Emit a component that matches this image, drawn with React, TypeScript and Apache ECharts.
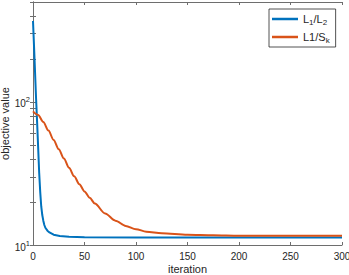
import React, { useEffect, useRef } from 'react';
import * as echarts from 'echarts';

const blueIter = [0, 1, 2, 3, 4, 5, 6, 7, 8, 9, 10, 11, 12, 14, 16, 20, 26, 35, 50, 100, 150, 200, 250, 300];
const blueVal = [368, 245, 160, 105, 72, 48, 32, 23.5, 18.6, 16.2, 14.8, 13.8, 13.2, 12.6, 12.25, 11.8, 11.55, 11.4, 11.33, 11.3, 11.3, 11.3, 11.3, 11.3];
const redIter = [0, 5, 10, 15, 20, 25, 30, 35, 40, 45, 50, 55, 60, 70, 80, 90, 100, 110, 125, 150, 175, 200, 250, 300];
const redVal = [85.9, 81.1, 72.4, 63.1, 54.3, 46.8, 40.3, 34.7, 30.2, 26.6, 23.7, 21.4, 19.5, 16.6, 14.8, 13.6, 12.9, 12.4, 12.1, 11.8, 11.7, 11.6, 11.6, 11.6];
const yTicks = [10, 20, 30, 40, 50, 60, 70, 80, 90, 100, 200, 300, 400, 500];
const seriesNames = ['L1/L2', 'L1/Sk'];

const FONT = '"Liberation Sans", Arial, Helvetica, sans-serif';
const TXT = '#262626';
const AX = '#6e6e6e';

export default function App() {
  const ref = useRef<HTMLDivElement>(null);
  useEffect(() => {
    const chart = echarts.init(ref.current!, null, { renderer: 'svg' });
    const yBase = {
      type: 'log' as const,
      logBase: 10,
      min: 10,
      max: 500,
      interval: 1,
      axisLine: { show: true, lineStyle: { color: AX, width: 1 } },
      splitLine: { show: false },
      minorTick: { show: false },
      axisTick: { show: true, inside: true, length: 3, lineStyle: { color: AX }, customValues: yTicks },
    };
    chart.setOption({
      animation: false,
      textStyle: { fontFamily: FONT },
      grid: { left: 33, right: 7, top: 2, bottom: 30, containLabel: false, outerBoundsMode: 'none' },
      legend: {
        orient: 'vertical',
        left: 269,
        top: 9,
        width: 70,
        padding: [3, 6, 3, 3],
        itemGap: 4,
        itemWidth: 26,
        itemHeight: 2.5,
        icon: 'rect',
        borderColor: TXT,
        borderWidth: 0.8,
        backgroundColor: '#fff',
        data: seriesNames,
        formatter: (n: string) => (n === 'L1/L2' ? '{b|L}{s|1}{b|/L}{s|2}' : '{b|L1/S}{s|k}'),
        textStyle: {
          color: TXT,
          fontFamily: FONT,
          rich: {
            b: { fontSize: 11, fontFamily: FONT, color: TXT, lineHeight: 16 },
            s: { fontSize: 8, fontFamily: FONT, color: TXT, lineHeight: 16, padding: [6, 0, 0, 0] },
          },
        },
      },
      xAxis: [
        {
          type: 'value',
          min: 0,
          max: 300,
          interval: 50,
          name: 'iteration',
          nameLocation: 'middle',
          nameGap: 18,
          nameMoveOverlap: false,
          nameTextStyle: { fontSize: 11, color: TXT, fontFamily: FONT, lineHeight: 12 },
          axisLine: { show: true, lineStyle: { color: AX, width: 1 } },
          axisTick: { show: true, inside: true, length: 3, lineStyle: { color: AX } },
          axisLabel: { fontSize: 10, color: TXT, margin: 6, fontFamily: FONT },
          splitLine: { show: false },
        },
        {
          type: 'value',
          position: 'top',
          min: 0,
          max: 300,
          interval: 50,
          axisLine: { show: true, lineStyle: { color: AX, width: 1 } },
          axisTick: { show: true, inside: true, length: 3, lineStyle: { color: AX } },
          axisLabel: { show: false },
          splitLine: { show: false },
        },
      ],
      yAxis: [
        {
          ...yBase,
          name: 'objective value',
          nameLocation: 'middle',
          nameGap: 22,
          nameMoveOverlap: false,
          nameTextStyle: { fontSize: 11, color: TXT, fontFamily: FONT, lineHeight: 12 },
          axisLabel: {
            show: true,
            margin: 3,
            color: TXT,
            fontFamily: FONT,
            formatter: (v: number) => (Math.abs(v - 10) < 1e-6 ? '{n|10}{p|1}' : Math.abs(v - 100) < 1e-6 ? '{n|10}{p|2}' : ''),
            rich: {
              n: { fontSize: 10, fontFamily: FONT, color: TXT, padding: [4, 0, 0, 0] },
              p: { fontSize: 7.5, fontFamily: FONT, color: TXT, padding: [0, 0, 4, 0] },
            },
          },
        },
        {
          ...yBase,
          position: 'right',
          axisLabel: { show: false },
        },
      ],
      series: [
        {
          name: seriesNames[0],
          type: 'line',
          xAxisIndex: 0,
          yAxisIndex: 0,
          data: blueIter.map((x, i) => [x, blueVal[i]]),
          showSymbol: false,
          lineStyle: { color: '#0072BD', width: 2 },
          itemStyle: { color: '#0072BD' },
          smooth: false,
        },
        {
          name: seriesNames[1],
          type: 'line',
          xAxisIndex: 0,
          yAxisIndex: 0,
          data: redIter.map((x, i) => [x, redVal[i]]),
          showSymbol: false,
          lineStyle: { color: '#D95319', width: 2 },
          itemStyle: { color: '#D95319' },
          smooth: 0.3,
          smoothMonotone: 'x',
        },
      ],
    });
    return () => chart.dispose();
  }, []);
  return <div ref={ref} style={{ width: 349, height: 275, position: 'absolute', left: 0, top: 0 }} />;
}
